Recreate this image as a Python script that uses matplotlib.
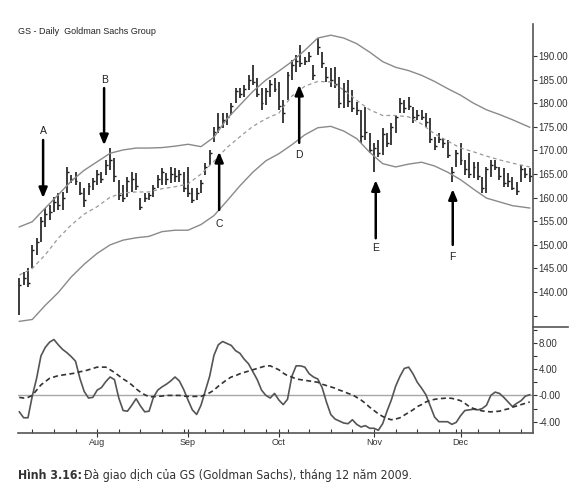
"""GS daily bars with envelope bands and oscillator, Dec 2009."""
import matplotlib
matplotlib.use("Agg")
import matplotlib.pyplot as plt
from matplotlib import font_manager
import numpy as np
import pandas as pd

plt.rcParams["font.family"] = ["Liberation Sans", "DejaVu Sans"]

# trading days shown on the chart (Jul 8 - Dec 23, 2009)
dates = pd.bdate_range("2009-07-08", "2009-12-23", freq="C",
                       holidays=["2009-09-07", "2009-11-26"])

high = [143.0, 144.2, 145.1, 150.0, 151.4, 155.9, 157.8, 158.4, 160.1, 161.0,
        161.2, 166.5, 164.8, 165.4, 163.3, 162.0, 163.1, 164.2, 165.8, 165.4,
        168.0, 170.5, 168.4, 163.7, 162.7, 164.4, 165.4, 165.2, 159.9, 161.0,
        161.0, 162.7, 164.8, 166.3, 165.2, 166.5, 166.3, 165.8, 165.4, 166.5,
        162.0, 162.0, 163.7, 167.3, 170.1, 175.0, 177.9, 177.9, 177.9, 180.0,
        183.2, 183.2, 183.9, 186.0, 188.1, 185.3, 183.2, 183.2, 184.9, 185.3,
        184.5, 180.7, 186.6, 189.2, 190.2, 192.3, 189.8, 190.8, 188.1, 193.8,
        190.8, 187.7, 187.5, 187.7, 185.6, 184.3, 184.9, 182.8, 180.3, 178.6,
        179.2, 173.7, 171.6, 172.2, 174.7, 173.7, 175.8, 177.5, 181.1, 180.7,
        181.3, 179.2, 178.6, 178.6, 177.9, 176.9, 172.8, 173.7, 172.6, 172.2,
        166.5, 170.1, 171.6, 168.0, 169.4, 167.5, 167.5, 164.4, 166.5, 168.0,
        168.0, 166.5, 166.3, 165.2, 164.4, 163.3, 166.9, 166.3, 166.3]
low = [135.1, 141.5, 141.1, 145.1, 147.8, 150.6, 153.8, 155.3, 157.0, 157.4,
       157.4, 161.0, 163.1, 162.7, 160.6, 158.0, 160.6, 161.6, 162.7, 163.1,
       164.8, 165.8, 163.3, 159.5, 159.1, 160.1, 161.2, 161.6, 157.4, 159.1,
       159.5, 160.1, 162.0, 162.7, 162.7, 163.1, 163.3, 163.3, 161.2, 160.1,
       158.9, 159.5, 161.0, 164.8, 166.9, 171.8, 173.7, 174.7, 175.4, 177.5,
       180.0, 181.1, 181.3, 182.8, 183.9, 181.3, 178.6, 179.6, 181.3, 182.4,
       178.6, 175.8, 180.7, 184.9, 186.6, 187.7, 188.1, 188.7, 184.9, 190.2,
       187.5, 184.5, 183.4, 183.2, 179.0, 179.0, 179.2, 178.1, 177.5, 171.6,
       172.2, 169.4, 165.4, 168.6, 169.0, 170.7, 171.1, 173.7, 177.9, 177.9,
       178.6, 175.8, 176.4, 176.4, 175.0, 171.6, 170.1, 171.6, 170.5, 168.4,
       163.3, 166.5, 166.9, 164.8, 164.2, 164.2, 163.7, 161.0, 161.0, 164.4,
       165.8, 163.7, 162.2, 162.2, 161.6, 160.6, 163.3, 164.2, 163.3]
close = [141.5, 143.0, 142.0, 149.0, 150.5, 155.0, 156.5, 157.0, 159.0, 158.5,
         160.0, 165.5, 164.0, 163.5, 161.0, 159.5, 162.5, 163.5, 165.0, 164.0,
         167.0, 168.0, 164.5, 160.5, 160.0, 163.5, 164.0, 162.5, 158.0, 160.0,
         160.5, 162.0, 164.0, 165.5, 164.0, 165.0, 164.5, 165.0, 162.0, 161.0,
         159.5, 161.0, 163.0, 166.5, 169.5, 174.0, 175.0, 176.5, 177.0, 179.5,
         182.5, 182.0, 183.0, 185.0, 184.5, 182.0, 180.0, 182.5, 184.0, 183.0,
         179.5, 178.0, 186.0, 188.0, 189.0, 188.5, 189.0, 190.0, 186.0, 192.0,
         188.5, 185.5, 185.0, 184.0, 180.0, 182.5, 180.5, 179.0, 178.5, 173.0,
         174.0, 170.0, 170.5, 169.5, 173.5, 171.5, 175.0, 177.0, 180.0, 179.0,
         179.5, 177.0, 177.5, 177.0, 176.0, 172.5, 171.0, 172.5, 171.5, 169.0,
         165.5, 169.5, 168.0, 166.0, 165.0, 166.5, 164.5, 162.0, 166.0, 167.0,
         166.5, 164.5, 163.0, 163.5, 162.0, 161.5, 166.0, 165.0, 164.5]

# envelope read at every third bar
band_idx = [0, 3, 6, 9, 12, 15, 18, 21, 24, 27, 30, 33, 36, 39, 42, 45, 48,
            51, 54, 57, 60, 63, 66, 69, 72, 75, 78, 81, 84, 87, 90, 93, 96, 99,
            102, 105, 108, 111, 114, 118]
upper = [153.8, 154.9, 157.8, 160.6, 163.5, 165.8, 167.6, 169.4, 170.1, 170.5,
         170.5, 170.6, 170.9, 171.3, 170.8, 172.8, 176.7, 179.6, 182.5, 184.9,
         186.8, 188.8, 191.2, 193.8, 194.4, 193.8, 192.6, 190.8, 188.8, 187.6,
         186.9, 185.9, 184.6, 183.1, 181.7, 180.0, 178.6, 177.6, 176.5, 174.9]
middle = [143.6, 145.0, 147.9, 151.4, 154.2, 156.5, 158.1, 160.1, 161.0, 161.2,
          161.2, 161.9, 162.3, 162.9, 165.0, 167.7, 170.6, 172.9, 175.1, 176.7,
          177.9, 181.5, 183.6, 184.6, 184.5, 182.8, 180.6, 178.6, 177.4, 177.4,
          177.1, 175.6, 173.5, 172.0, 170.5, 169.7, 168.8, 168.0, 167.3, 166.5]
lower = [133.8, 134.2, 137.2, 139.9, 143.2, 145.9, 148.2, 150.0, 151.0, 151.5,
         151.8, 152.8, 153.1, 153.1, 154.3, 156.2, 159.3, 162.5, 165.4, 167.8,
         169.3, 171.2, 173.3, 174.8, 175.1, 174.1, 172.5, 169.6, 167.2, 166.5,
         167.1, 167.5, 166.7, 165.4, 163.8, 161.8, 159.9, 159.1, 158.3, 157.8]

osc = [-2.5, -3.4, -3.4, -0.1, 2.6, 6.0, 7.3, 8.1, 8.5, 7.7,
       7.0, 6.5, 5.9, 5.2, 2.6, 0.6, -0.4, -0.3, 0.8, 1.2,
       2.1, 2.8, 2.4, -0.4, -2.3, -2.4, -1.5, -0.5, -1.6, -2.5,
       -2.4, -0.3, 0.8, 1.3, 1.7, 2.2, 2.8, 2.2, 0.9, -0.7,
       -2.2, -2.9, -1.5, 0.7, 2.9, 6.1, 7.7, 8.2, 7.9, 7.6,
       6.8, 6.4, 5.5, 4.8, 3.6, 2.4, 0.8, 0.0, -0.4, 0.3,
       -0.7, -1.4, -0.6, 2.9, 4.5, 4.5, 4.3, 3.3, 2.8, 2.5,
       1.2, -1.0, -2.9, -3.6, -3.9, -4.2, -4.3, -3.7, -4.4, -4.8,
       -4.6, -5.0, -5.0, -5.3, -4.3, -2.4, -0.7, 1.4, 2.9, 4.1,
       4.3, 3.3, 2.0, 1.1, 0.1, -1.6, -3.3, -4.0, -4.0, -4.0,
       -4.4, -4.1, -3.1, -2.3, -2.2, -2.1, -2.2, -2.0, -1.5, 0.0,
       0.5, 0.3, -0.3, -1.0, -1.7, -1.2, -0.8, -0.1, 0.1]
signal = [-0.3, -0.4, -0.3, 0.0, 0.8, 1.6, 2.1, 2.6, 2.8, 3.0,
          3.1, 3.2, 3.3, 3.4, 3.6, 3.7, 3.9, 4.1, 4.3, 4.3,
          4.3, 3.9, 3.5, 3.0, 2.5, 2.1, 1.6, 1.0, 0.5, 0.1,
          -0.2, -0.2, -0.15, -0.1, 0.0, 0.0, 0.0, 0.0, -0.1, -0.15,
          -0.15, -0.15, -0.15, 0.1, 0.4, 0.8, 1.4, 1.9, 2.4, 2.8,
          3.0, 3.3, 3.5, 3.7, 3.9, 4.1, 4.3, 4.5, 4.5, 4.2,
          3.9, 3.4, 3.0, 2.8, 2.5, 2.4, 2.3, 2.2, 2.1, 2.0,
          1.7, 1.5, 1.3, 1.1, 0.8, 0.6, 0.3, 0.1, -0.3, -0.7,
          -1.2, -1.8, -2.3, -2.8, -3.2, -3.5, -3.7, -3.6, -3.4, -3.0,
          -2.6, -2.2, -1.7, -1.4, -1.0, -0.75, -0.6, -0.5, -0.45, -0.4,
          -0.45, -0.6, -0.8, -1.2, -1.7, -2.0, -2.2, -2.35, -2.45, -2.5,
          -2.45, -2.4, -2.2, -2.05, -1.8, -1.6, -1.4, -1.2, -1.0]

# signal arrows: label, bar, tail price, tip price, label price
arrows = [("A", 5.5, 172.2, 159.9, 174.1),
          ("B", 19.6, 183.2, 171.1, 184.9),
          ("C", 46.2, 157.4, 169.7, 154.4),
          ("D", 64.7, 171.6, 183.9, 169.0),
          ("E", 82.4, 151.4, 163.7, 149.3),
          ("F", 100.2, 150.0, 161.8, 147.4)]

price_ticks = [135, 140, 145, 150, 155, 160, 165, 170, 175, 180, 185, 190]
osc_ticks = [8, 4, 0, -4]
osc_labels = ["8.00", "4.00", "-0.00", "-4.00"]


def caption_font():
    # narrow face for the caption if one is installed
    cond = [f for f in font_manager.fontManager.ttflist
            if f.name == "DejaVu Sans" and f.stretch == "condensed"]
    if cond:
        return dict(family=["DejaVu Sans"], stretch="condensed", size=8.8)
    return dict(family=["Liberation Sans", "DejaVu Sans"], size=9.0)


def main() -> None:
    x = np.arange(len(dates))
    fig = plt.figure(figsize=(5.81, 4.97), dpi=100)
    ax = fig.add_axes([0.031, 0.342, 0.886, 0.610])
    ax2 = fig.add_axes([0.031, 0.129, 0.886, 0.213], sharex=ax)

    # price bars
    ax.vlines(x, low, high, color="#1a1a1a", lw=1.2)
    ax.hlines(close, x, x + 0.45, color="#1a1a1a", lw=1.0)
    ax.plot(band_idx, upper, color="#8a8a8a", lw=1.0)
    ax.plot(band_idx, lower, color="#8a8a8a", lw=1.0)
    ax.plot(band_idx, middle, color="#9a9a9a", lw=0.9, ls=(0, (3, 2.5)))

    for name, bx, tail, tip, ly in arrows:
        ax.annotate("", xy=(bx, tip), xytext=(bx, tail),
                    arrowprops=dict(arrowstyle="-|>,head_length=0.6,head_width=0.25",
                                    color="black", lw=1.8, shrinkA=0, shrinkB=0))
        ax.text(bx, ly, name, ha="center", va="center", fontsize=7.5, color="#222222")

    ax.set_ylim(132.6, 196.8)
    ax.set_xlim(-0.3, 118.7)
    ax.yaxis.tick_right()
    ax.set_yticks(price_ticks)
    ax.set_yticklabels(["" if t == 135 else f"{t:.2f}" for t in price_ticks])
    ax.tick_params(axis="y", direction="out", length=3, width=0.8, pad=1,
                   labelsize=7, colors="#333333")
    ax.tick_params(axis="x", bottom=False, labelbottom=False)
    for side in ["top", "left", "bottom"]:
        ax.spines[side].set_visible(False)
    ax.spines["right"].set_color("#555555")
    ax.spines["right"].set_linewidth(1.2)
    ax.text(-0.3, 195.2, "GS - Daily  Goldman Sachs Group", fontsize=6.5,
            color="#222222", va="center")

    # oscillator
    ax2.axhline(0, color="#a8a8a8", lw=1.0)
    ax2.plot(x, osc, color="#555555", lw=1.2)
    ax2.plot(x, signal, color="#333333", lw=1.2, ls=(0, (3, 2)))
    ax2.set_ylim(-5.7, 10.4)
    ax2.yaxis.tick_right()
    ax2.set_yticks(osc_ticks)
    ax2.set_yticklabels(osc_labels)
    ax2.set_yticks([10, 6, 2, -2], minor=True)
    ax2.tick_params(axis="y", which="both", direction="out", length=3, width=0.8,
                    pad=1, labelsize=7, colors="#333333")
    for side in ["top", "left"]:
        ax2.spines[side].set_visible(False)
    ax2.spines["right"].set_color("#555555")
    ax2.spines["right"].set_linewidth(1.2)
    ax2.spines["bottom"].set_color("#555555")
    ax2.spines["bottom"].set_linewidth(1.2)

    months = pd.Series(dates.month)
    month_pos = x[(months != months.shift()).to_numpy()][1:]
    weeks = pd.Series(dates.isocalendar().week.to_numpy())
    week_pos = x[(weeks != weeks.shift()).to_numpy()][1:]
    ax2.set_xticks(month_pos)
    ax2.set_xticklabels([dates[i].strftime("%b") for i in month_pos])
    ax2.set_xticks([w for w in week_pos if w not in month_pos], minor=True)
    ax2.tick_params(axis="x", which="major", direction="inout", length=6,
                    width=0.8, pad=1, labelsize=6.5, colors="#333333")
    ax2.tick_params(axis="x", which="minor", direction="in", length=3,
                    width=0.8, colors="#333333")

    # separator stub between panels at the right axis
    fig.add_artist(plt.Line2D([0.917, 0.978], [0.342, 0.342], color="#555555",
                              lw=1.2, transform=fig.transFigure))

    # caption
    cf = caption_font()
    fig.canvas.draw()
    cap1 = fig.text(0.031, 0.036, "Hình 3.16:", fontweight="bold",
                    color="#333333", **cf)
    r = fig.canvas.get_renderer()
    bb = cap1.get_window_extent(r).transformed(fig.transFigure.inverted())
    fig.text(bb.x1 + 0.004, 0.036,
             "Đà giao dịch của GS (Goldman Sachs), tháng 12 năm 2009.",
             color="#333333", **cf)

    fig.savefig("out.png", dpi=100)
    plt.close(fig)


if __name__ == "__main__":
    main()
